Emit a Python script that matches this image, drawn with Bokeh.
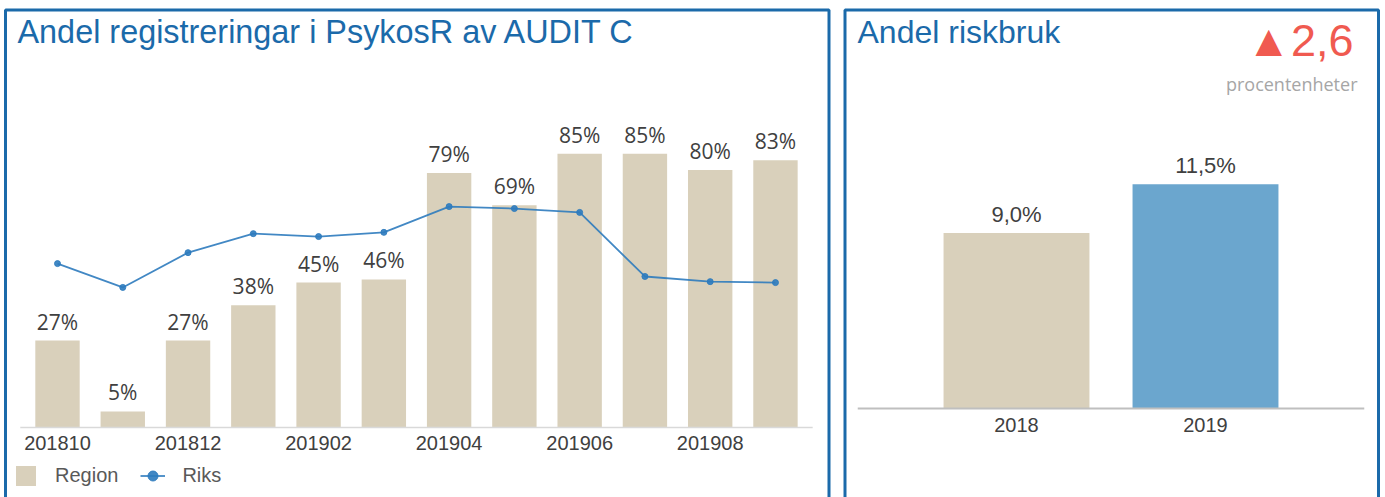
from bokeh.plotting import figure
from bokeh.layouts import row
from bokeh.models import (Range1d, LinearAxis, FixedTicker, Label, BoxAnnotation,
                          Legend, LegendItem, ColumnDataSource)
from bokeh.core.properties import value
from bokeh.embed import file_html
from bokeh.resources import INLINE

# ---------------- data ----------------
months = ["201810", "201811", "201812", "201901", "201902", "201903",
          "201904", "201905", "201906", "201907", "201908", "201909"]
region = [27, 5, 27, 38, 45, 46, 79, 69, 85, 85, 80, 83]
riks = [50.9, 43.5, 54.3, 60.2, 59.3, 60.6, 68.6, 68.0, 66.8, 46.9, 45.3, 45.0]
tick_every = 2

years = ["2018", "2019"]
riskbruk = [9.0, 11.5]
change = 2.6

title_left = "Andel registreringar i PsykosR av AUDIT C"
title_right = "Andel riskbruk"
change_unit = "procentenheter"

# ---------------- styles ----------------
BLUE = "#1B6AAA"
BEIGE = "#D9D0BB"
BAR2019 = "#6BA6CE"
LINE = "#2E7BBE"
TXT = "#404040"
RED = "#F05A50"
H = 497

def make_fig(w, x0_px, px_x, base_px, px_y):
    xs = -x0_px / px_x
    xe = (w - x0_px) / px_x
    ys = -(H - base_px) / px_y
    ye = base_px / px_y
    p = figure(width=w, height=H, x_range=Range1d(xs, xe), y_range=Range1d(ys, ye),
               x_axis_type=None, y_axis_type=None, toolbar_location=None,
               output_backend="svg", min_border=0, min_border_left=0,
               min_border_right=0, min_border_top=0, min_border_bottom=0)
    p.outline_line_color = None
    p.background_fill_color = "white"
    p.border_fill_color = "white"
    dx = lambda px: xs + px / px_x
    dy = lambda py: (base_px - py) / px_y
    return p, dx, dy

# ================= left panel =================
W1 = 836
p1, dx1, dy1 = make_fig(W1, 57, 65.27, 427, 3.22)

p1.add_layout(BoxAnnotation(left=dx1(5), right=dx1(828.5), top=dy1(9.5), bottom=dy1(700),
                            fill_color=None, fill_alpha=0, line_color=BLUE,
                            line_alpha=1.0, line_width=3))

idx = list(range(len(months)))
src1 = ColumnDataSource(dict(x=idx, region=region, riks=riks,
                             lab=[f"{v}%" for v in region]))

bars = p1.vbar(x="x", top="region", width=0.68, source=src1, fill_color=BEIGE, line_color=None)
p1.segment(x0=[-0.57], y0=[0], x1=[len(months) - 1 + 0.57], y1=[0], line_color="#D9D9D9", line_width=1.5)
ln = p1.line(x="x", y="riks", source=src1, line_color=LINE, line_width=1.8, line_alpha=0.9)
sc = p1.scatter(x="x", y="riks", source=src1, size=6, marker="circle",
                fill_color=LINE, line_color=LINE, alpha=0.9)
p1.text(x="x", y="region", text="lab", source=src1, text_align="center",
        text_baseline="alphabetic", y_offset=-19, text_color=TXT,
        text_font=value("Open Sans"), text_font_size="21px")

ax1 = LinearAxis(fixed_location=0,
                 ticker=FixedTicker(ticks=idx[::tick_every]),
                 major_label_overrides={i: months[i] for i in idx})
ax1.axis_line_color = None
ax1.major_tick_line_color = None
ax1.minor_tick_line_color = None
ax1.major_tick_out = 0
ax1.major_label_standoff = 8
ax1.major_label_text_font = "Liberation Sans"
ax1.major_label_text_font_size = "20px"
ax1.major_label_text_color = TXT
p1.add_layout(ax1, "below")

p1.add_layout(Label(x=dx1(17), y=dy1(31), text=title_left, text_font="Liberation Sans",
                    text_font_size="32.4px", text_color=BLUE, text_baseline="alphabetic"))

legend = Legend(items=[LegendItem(label="Region", renderers=[bars]),
                       LegendItem(label="Riks", renderers=[ln, sc])],
                location=(13, 9), orientation="horizontal")
legend.glyph_width = 25
legend.glyph_height = 25
legend.label_standoff = 17
legend.spacing = 22
legend.padding = 0
legend.margin = 0
legend.border_line_color = None
legend.background_fill_alpha = 0
legend.label_text_font = "Liberation Sans"
legend.label_text_font_size = "20px"
legend.label_text_color = "#595959"
p1.add_layout(legend)

# ================= right panel =================
W2 = 1385 - W1
p2, dx2, dy2 = make_fig(W2, 180, 189, 408, 19.5)

p2.add_layout(BoxAnnotation(left=dx2(8.5), right=dx2(542), top=dy2(9.5), bottom=dy2(700),
                            fill_color=None, fill_alpha=0, line_color=BLUE,
                            line_alpha=1.0, line_width=3))

yi = list(range(len(years)))
src2 = ColumnDataSource(dict(x=yi, v=riskbruk, c=[BEIGE, BAR2019],
                             lab=[f"{v:.1f}%".replace(".", ",") for v in riskbruk]))
p2.vbar(x="x", top="v", width=0.772, source=src2, fill_color="c", line_color=None)
p2.segment(x0=[-0.84], y0=[0], x1=[len(years) - 1 + 0.84], y1=[0], line_color="#BFBFBF", line_width=2)
p2.text(x="x", y="v", text="lab", source=src2, text_align="center",
        text_baseline="alphabetic", y_offset=-19, text_color=TXT,
        text_font=value("Liberation Sans"), text_font_size="22px")

ax2 = LinearAxis(fixed_location=0, ticker=FixedTicker(ticks=yi),
                 major_label_overrides={i: years[i] for i in yi})
ax2.axis_line_color = None
ax2.major_tick_line_color = None
ax2.minor_tick_line_color = None
ax2.major_tick_out = 0
ax2.major_label_standoff = 9
ax2.major_label_text_font = "Liberation Sans"
ax2.major_label_text_font_size = "20px"
ax2.major_label_text_color = TXT
p2.add_layout(ax2, "below")

p2.add_layout(Label(x=dx2(21), y=dy2(31), text=title_right, text_font="Liberation Sans",
                    text_font_size="32px", text_color=BLUE, text_baseline="alphabetic"))
p2.add_layout(Label(x=dx2(517), y=dy2(40), text=f"▲{change:.1f}".replace(".", ","),
                    text_font="Liberation Sans", text_font_size="45px", text_color=RED,
                    text_align="right", text_baseline="alphabetic"))
p2.add_layout(Label(x=dx2(521), y=dy2(83), text=change_unit, text_font="Open Sans",
                    text_font_size="18px", text_color="#A6A6A6",
                    text_align="right", text_baseline="alphabetic"))

layout = row(p1, p2, spacing=0)
open("out.html", "w").write(file_html(layout, INLINE))
